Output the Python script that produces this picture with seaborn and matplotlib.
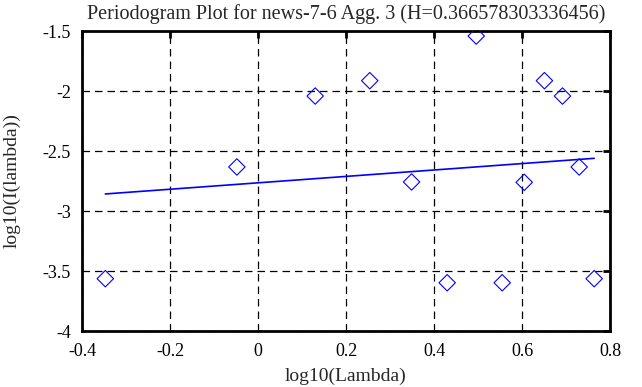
import matplotlib
matplotlib.use('Agg')
import matplotlib.pyplot as plt
import seaborn as sns
import pandas as pd

# periodogram points (log10 lambda, log10 I(lambda))
log_lambda = [-0.347, -0.048, 0.130, 0.254, 0.349, 0.430, 0.496, 0.555, 0.605, 0.651, 0.692, 0.730, 0.764]
log_I = [-3.564, -2.633, -2.042, -1.914, -2.758, -3.598, -1.542, -3.598, -2.761, -1.914, -2.042, -2.633, -3.564]

# fitted line endpoints
fit_x = [-0.347, 0.764]
fit_y = [-2.858, -2.561]

x_ticks = [-0.4, -0.2, 0, 0.2, 0.4, 0.6, 0.8]
x_labels = ['-0.4', '-0.2', '0', '0.2', '0.4', '0.6', '0.8']
y_ticks = [-4, -3.5, -3, -2.5, -2, -1.5]
y_labels = ['-4', '-3.5', '-3', '-2.5', '-2', '-1.5']

df = pd.DataFrame({'x': log_lambda, 'y': log_I})
fit = pd.DataFrame({'x': fit_x, 'y': fit_y})

sns.set_style('white')
plt.rcParams['font.family'] = ['Liberation Serif', 'DejaVu Serif']
plt.rcParams['axes.unicode_minus'] = False

fig = plt.figure(figsize=(6.42, 3.87), dpi=100)
ax = fig.add_axes([82/642, 1 - 331/387, 528/642, 300/387])

sns.scatterplot(data=df, x='x', y='y', marker='D', s=70, facecolor='none',
                edgecolor='blue', linewidth=0.8, ax=ax, zorder=3)
sns.lineplot(data=fit, x='x', y='y', color='blue', linewidth=1.2, ax=ax, zorder=3)

ax.set_xlim(-0.4, 0.8)
ax.set_ylim(-4, -1.5)
ax.set_xticks(x_ticks)
ax.set_xticklabels(x_labels)
ax.set_yticks(y_ticks)
ax.set_yticklabels(y_labels)
ax.grid(True, color='black', linestyle=(0, (6, 4)), linewidth=0.9)
ax.tick_params(direction='in', length=5, width=2, top=True, right=True,
               labelsize=13, colors='black')
ax.tick_params(axis='x', pad=9)
ax.tick_params(axis='y', pad=8)
for lbl in ax.get_yticklabels():
    lbl.set_va('center_baseline')
for sp in ax.spines.values():
    sp.set_visible(True)
    sp.set_linewidth(2)
    sp.set_color('black')

ax.set_title('Periodogram Plot for news-7-6 Agg. 3 (H=0.366578303336456)', fontsize=14.5, pad=9)
ax.set_xlabel('log10(Lambda)', fontsize=14, labelpad=5)
ax.set_ylabel('log10(I(lambda))', fontsize=14, labelpad=16)

fig.savefig('out.png', dpi=100)
